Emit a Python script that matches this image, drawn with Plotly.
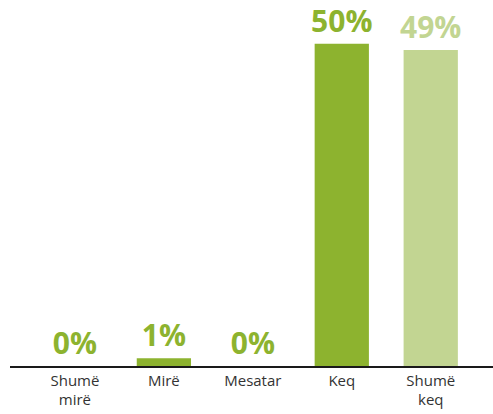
import plotly.graph_objects as go

categories = ["Shumë<br>mirë", "Mirë", "Mesatar", "Keq", "Shumë<br>keq"]
values = [0, 1.2, 0, 50, 49]
labels = ["0%", "1%", "0%", "50%", "49%"]
bar_colors = ["#8db32f", "#8db32f", "#8db32f", "#8db32f", "#c2d592"]
text_colors = ["#8db32f", "#8db32f", "#8db32f", "#8db32f", "#c2d592"]

fig = go.Figure(go.Bar(
    x=list(range(len(categories))),
    y=values,
    text=labels,
    textposition="outside",
    constraintext="none",
    textfont=dict(family="Open Sans", size=30, color=text_colors, weight="bold"),
    marker=dict(color=bar_colors, line=dict(width=0)),
    width=0.61,
    cliponaxis=False,
))

fig.update_layout(
    width=493, height=414,
    margin=dict(l=10, r=0, t=14, b=48),
    paper_bgcolor="white", plot_bgcolor="white",
    showlegend=False,
    xaxis=dict(
        tickmode="array", tickvals=list(range(len(categories))), ticktext=categories,
        range=[-0.73, 4.70], showline=True, linecolor="#1a1a1a", linewidth=1.5,
        showgrid=False, zeroline=False, ticks="",
        tickfont=dict(family="Open Sans", size=15, color="#333333"),
    ),
    yaxis=dict(range=[0, 54.6], visible=False, showgrid=False, zeroline=False),
)

fig.write_html("out.html", config={"displayModeBar": False},
               post_script="document.body.style.margin='0';")
